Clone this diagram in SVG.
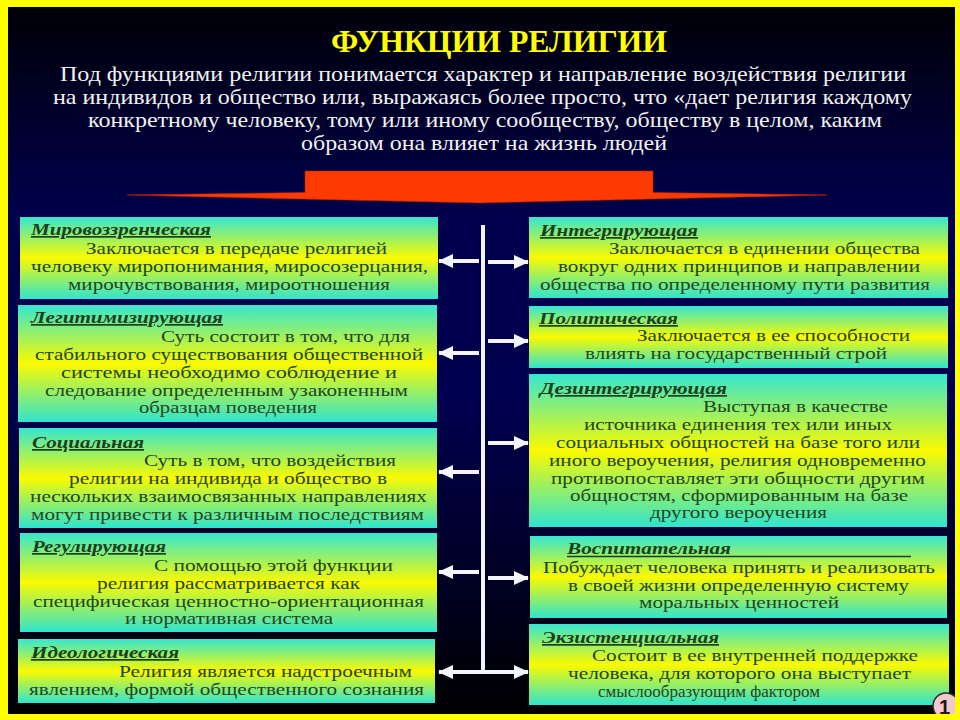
<svg xmlns="http://www.w3.org/2000/svg" width="960" height="720" viewBox="0 0 960 720">
<defs>
<linearGradient id="bg" x1="0" y1="0" x2="0" y2="1">
<stop offset="0" stop-color="#000006"/>
<stop offset="0.3" stop-color="#00004c"/>
<stop offset="0.55" stop-color="#000050"/>
<stop offset="0.8" stop-color="#000024"/>
<stop offset="1" stop-color="#000000"/>
</linearGradient>
<linearGradient id="box" x1="0" y1="0" x2="0" y2="1">
<stop offset="0" stop-color="#36e6d0"/>
<stop offset="0.5" stop-color="#fafa00"/>
<stop offset="1" stop-color="#30e4d0"/>
</linearGradient>
<marker id="ah" markerWidth="16" markerHeight="14" refX="14" refY="7" orient="auto" markerUnits="userSpaceOnUse">
<path d="M0,0 L15,7 L0,14 Z" fill="#f4f4ff"/>
</marker>
<style>
text{font-family:"Liberation Serif","DejaVu Serif","Times New Roman",serif;}
.title{font-size:32px;font-weight:bold;fill:#ffff00;}
.sub{font-size:21px;fill:#f2f2f2;}
.head{font-size:17px;font-weight:bold;font-style:italic;fill:#1c3f1c;text-decoration:underline;}
.headnu{font-size:17px;font-weight:bold;font-style:italic;fill:#1c3f1c;}
.body{font-size:17.5px;fill:#22461f;}
.bx{fill:url(#box);}
.con{stroke:#f4f4ff;stroke-width:4;fill:none;}
.arr{stroke:#f4f4ff;stroke-width:4;fill:none;marker-end:url(#ah);}
</style>
</defs>
<rect x="0" y="0" width="960" height="720" fill="url(#bg)"/>

<g id="header" font-family="Liberation Serif, serif">
<text class="title" x="331" y="52" textLength="336" lengthAdjust="spacingAndGlyphs">ФУНКЦИИ РЕЛИГИИ</text>
<text class="sub" x="60" y="81" textLength="846" lengthAdjust="spacingAndGlyphs">Под функциями религии понимается характер и направление воздействия религии</text>
<text class="sub" x="53" y="104" textLength="859" lengthAdjust="spacingAndGlyphs">на индивидов и общество или, выражаясь более просто, что «дает религия каждому</text>
<text class="sub" x="88" y="127" textLength="794" lengthAdjust="spacingAndGlyphs">конкретному человеку, тому или иному сообществу, обществу в целом, каким</text>
<text class="sub" x="301" y="150" textLength="366" lengthAdjust="spacingAndGlyphs">образом она влияет на жизнь людей</text>
</g>

<g id="red-arrow">
<path d="M127,195 L305,192.5 L305,171 L653,171 L653,192.5 L827,195 L480,203 Z" fill="#ff3a00" stroke="#c02000" stroke-width="0.6"/>
</g>

<g id="connectors">
<line class="con" x1="483" y1="225" x2="483" y2="672"/>
<line class="arr" x1="479" y1="261" x2="439" y2="261"/>
<line class="arr" x1="479" y1="353" x2="439" y2="353"/>
<line class="arr" x1="479" y1="472" x2="439" y2="472"/>
<line class="arr" x1="479" y1="572" x2="439" y2="572"/>
<line class="arr" x1="485" y1="672" x2="439" y2="672"/>
<line class="arr" x1="488" y1="262" x2="528" y2="262"/>
<line class="arr" x1="488" y1="341" x2="528" y2="341"/>
<line class="arr" x1="488" y1="443" x2="528" y2="443"/>
<line class="arr" x1="488" y1="578" x2="528" y2="578"/>
<line class="arr" x1="481" y1="672" x2="528" y2="672"/>
</g>

<g id="mirovozzrencheskaya" font-family="Liberation Serif, serif">
<rect class="bx" x="20" y="217" width="418" height="82"/>
<text class="head" x="31" y="235" textLength="180" lengthAdjust="spacingAndGlyphs">Мировоззренческая</text>
<text class="body" x="86" y="254" textLength="301" lengthAdjust="spacingAndGlyphs">Заключается в передаче религией</text>
<text class="body" x="31" y="272" textLength="397" lengthAdjust="spacingAndGlyphs">человеку миропонимания, миросозерцания,</text>
<text class="body" x="68" y="290" textLength="322" lengthAdjust="spacingAndGlyphs">мирочувствования, мироотношения</text>
</g>

<g id="legitimiziruyushchaya" font-family="Liberation Serif, serif">
<rect class="bx" x="18" y="305" width="419" height="117"/>
<text class="head" x="31" y="323" textLength="192" lengthAdjust="spacingAndGlyphs">Легитимизирующая</text>
<text class="body" x="161" y="342" textLength="249" lengthAdjust="spacingAndGlyphs">Суть состоит в том, что для</text>
<text class="body" x="35" y="360" textLength="388" lengthAdjust="spacingAndGlyphs">стабильного существования общественной</text>
<text class="body" x="61" y="378" textLength="336" lengthAdjust="spacingAndGlyphs">системы необходимо соблюдение и</text>
<text class="body" x="45" y="396" textLength="363" lengthAdjust="spacingAndGlyphs">следование определенным узаконенным</text>
<text class="body" x="139" y="413" textLength="178" lengthAdjust="spacingAndGlyphs">образцам поведения</text>
</g>

<g id="socialnaya" font-family="Liberation Serif, serif">
<rect class="bx" x="19" y="428" width="418" height="100"/>
<text class="head" x="32" y="448" textLength="112" lengthAdjust="spacingAndGlyphs">Социальная</text>
<text class="body" x="144" y="466" textLength="252" lengthAdjust="spacingAndGlyphs">Суть в том, что воздействия</text>
<text class="body" x="69" y="484" textLength="318" lengthAdjust="spacingAndGlyphs">религии на индивида и общество в</text>
<text class="body" x="30" y="502" textLength="397" lengthAdjust="spacingAndGlyphs">нескольких взаимосвязанных направлениях</text>
<text class="body" x="31" y="520" textLength="393" lengthAdjust="spacingAndGlyphs">могут привести к различным последствиям</text>
</g>

<g id="reguliruyushchaya" font-family="Liberation Serif, serif">
<rect class="bx" x="20" y="533" width="417" height="99"/>
<text class="head" x="32" y="552" textLength="134" lengthAdjust="spacingAndGlyphs">Регулирующая</text>
<text class="body" x="154" y="571" textLength="239" lengthAdjust="spacingAndGlyphs">С помощью этой функции</text>
<text class="body" x="97" y="589" textLength="263" lengthAdjust="spacingAndGlyphs">религия рассматривается как</text>
<text class="body" x="33" y="607" textLength="391" lengthAdjust="spacingAndGlyphs">специфическая ценностно-ориентационная</text>
<text class="body" x="125" y="624" textLength="208" lengthAdjust="spacingAndGlyphs">и нормативная система</text>
</g>

<g id="ideologicheskaya" font-family="Liberation Serif, serif">
<rect class="bx" x="18" y="639" width="417" height="64"/>
<text class="head" x="31" y="658" textLength="148" lengthAdjust="spacingAndGlyphs">Идеологическая</text>
<text class="body" x="119" y="677" textLength="293" lengthAdjust="spacingAndGlyphs">Религия является надстроечным</text>
<text class="body" x="29" y="695" textLength="395" lengthAdjust="spacingAndGlyphs">явлением, формой общественного сознания</text>
</g>

<g id="integriruyushchaya" font-family="Liberation Serif, serif">
<rect class="bx" x="529" y="217" width="419" height="81"/>
<text class="head" x="540" y="236" textLength="158" lengthAdjust="spacingAndGlyphs">Интегрирующая</text>
<text class="body" x="609" y="254" textLength="311" lengthAdjust="spacingAndGlyphs">Заключается в единении общества</text>
<text class="body" x="558" y="272" textLength="362" lengthAdjust="spacingAndGlyphs">вокруг одних принципов и направлении</text>
<text class="body" x="540" y="290" textLength="390" lengthAdjust="spacingAndGlyphs">общества по определенному пути развития</text>
</g>

<g id="politicheskaya" font-family="Liberation Serif, serif">
<rect class="bx" x="529" y="306" width="419" height="62"/>
<text class="head" x="539" y="324" textLength="139" lengthAdjust="spacingAndGlyphs">Политическая</text>
<text class="body" x="637" y="341" textLength="273" lengthAdjust="spacingAndGlyphs">Заключается в ее способности</text>
<text class="body" x="585" y="359" textLength="302" lengthAdjust="spacingAndGlyphs">влиять на государственный строй</text>
</g>

<g id="dezintegriruyushchaya" font-family="Liberation Serif, serif">
<rect class="bx" x="529" y="374" width="418" height="153"/>
<text class="head" x="540" y="394" textLength="187" lengthAdjust="spacingAndGlyphs">Дезинтегрирующая</text>
<text class="body" x="703" y="412" textLength="185" lengthAdjust="spacingAndGlyphs">Выступая в качестве</text>
<text class="body" x="584" y="430" textLength="308" lengthAdjust="spacingAndGlyphs">источника единения тех или иных</text>
<text class="body" x="556" y="448" textLength="364" lengthAdjust="spacingAndGlyphs">социальных общностей на базе того или</text>
<text class="body" x="549" y="466" textLength="377" lengthAdjust="spacingAndGlyphs">иного вероучения, религия одновременно</text>
<text class="body" x="551" y="484" textLength="374" lengthAdjust="spacingAndGlyphs">противопоставляет эти общности другим</text>
<text class="body" x="570" y="501" textLength="338" lengthAdjust="spacingAndGlyphs">общностям, сформированным на базе</text>
<text class="body" x="650" y="518" textLength="177" lengthAdjust="spacingAndGlyphs">другого вероучения</text>
</g>

<g id="vospitatelnaya" font-family="Liberation Serif, serif">
<rect class="bx" x="530" y="536" width="417" height="82"/>
<text class="headnu" x="567" y="554" textLength="164" lengthAdjust="spacingAndGlyphs">Воспитательная</text>
<line x1="567" y1="556.5" x2="911" y2="556.5" stroke="#1c3f1c" stroke-width="1.3"/>
<text class="body" x="543" y="573" textLength="392" lengthAdjust="spacingAndGlyphs">Побуждает человека принять и реализовать</text>
<text class="body" x="568" y="591" textLength="341" lengthAdjust="spacingAndGlyphs">в своей жизни определенную систему</text>
<text class="body" x="639" y="608" textLength="200" lengthAdjust="spacingAndGlyphs">моральных ценностей</text>
</g>

<g id="ekzistencialnaya" font-family="Liberation Serif, serif">
<rect class="bx" x="529" y="624" width="420" height="81"/>
<text class="head" x="542" y="643" textLength="177" lengthAdjust="spacingAndGlyphs">Экзистенциальная</text>
<text class="body" x="592" y="661" textLength="326" lengthAdjust="spacingAndGlyphs">Состоит в ее внутренней поддержке</text>
<text class="body" x="568" y="679" textLength="343" lengthAdjust="spacingAndGlyphs">человека, для которого она выступает</text>
<text class="body" x="598" y="697" textLength="222" lengthAdjust="spacingAndGlyphs">смыслообразующим фактором</text>
</g>

<g id="badge">
<circle cx="946" cy="706" r="13" fill="#f2c8ce" stroke="#2a2a2a" stroke-width="1.5"/>
<text x="939" y="714" style="font-family:'Liberation Sans',Arial,sans-serif" font-size="20" font-weight="bold" fill="#1a1a1a">1</text>
</g>

<path d="M0,0 H960 V720 H0 Z M8,7 V714 H955 V7 Z" fill="#ffff00" fill-rule="evenodd"/>
</svg>
